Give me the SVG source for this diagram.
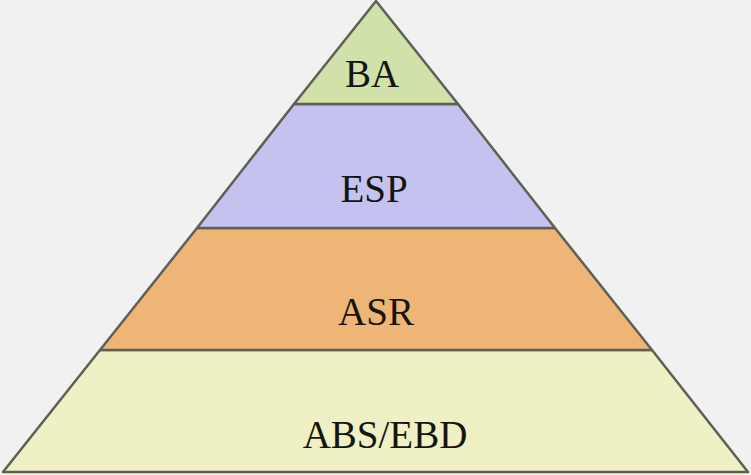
<svg xmlns="http://www.w3.org/2000/svg" width="751" height="475" viewBox="0 0 751 475">
<style>
.layer{stroke:#5f5f55;stroke-width:2.5;stroke-linejoin:round}
.lbl{font-family:"Liberation Serif","Times New Roman",serif;font-size:39px;fill:#151510;text-anchor:middle}
</style>
<rect width="751" height="475" fill="#f1f1f1"/>
<g id="abs">
<polygon class="layer" points="100,350 652,350 748,472 3,472" fill="#eff0c3"/>
<text class="lbl" x="385" y="448">ABS/EBD</text>
</g>
<g id="asr">
<polygon class="layer" points="197,228 555,228 652,350 100,350" fill="#efb577"/>
<text class="lbl" x="376" y="325">ASR</text>
</g>
<g id="esp">
<polygon class="layer" points="294,104 458,104 555,228 197,228" fill="#c4c3ef"/>
<text class="lbl" x="374" y="202">ESP</text>
</g>
<g id="ba">
<polygon class="layer" points="376,1 458,104 294,104" fill="#d0e1aa"/>
<text class="lbl" x="372" y="87">BA</text>
</g>
<g id="connectors"></g>
</svg>
